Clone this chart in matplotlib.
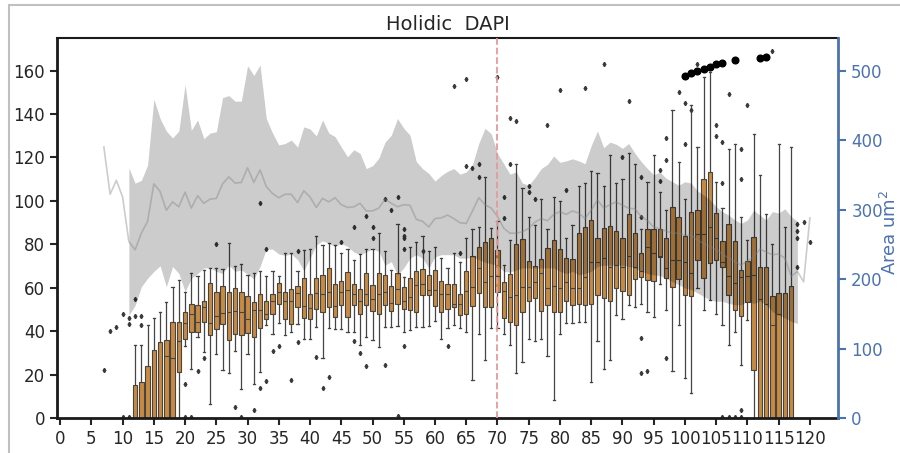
import numpy as np
import matplotlib.pyplot as plt
from matplotlib.patches import Rectangle

plt.rcParams['font.family'] = 'DejaVu Sans'

# ============================
# DATA
# ============================
# box statistics per age (left axis, DAPI)
box_pos = list(range(12, 118))
q1 = [0, 0, 0, 0, 0, 0, 0, 21, 36.5, 39.8,
      39.8, 44.4, 38, 41, 43.3, 36, 38.6, 38, 39.3, 37.1,
      41.5, 45.5, 47.7, 52.7, 45.8, 43.5, 51.2, 46.1, 45.8, 50.4,
      48.9, 50.9, 46.6, 52, 46.3, 52, 47.7, 52, 49.2, 47.7,
      52, 49.2, 52.3, 50.1, 49.7, 48.6, 56.6, 56.6, 51.5, 48.9,
      50.1, 50.9, 47.5, 47.8, 51.6, 57.5, 51, 51, 58.2, 46,
      44.4, 42.6, 49, 54, 55.2, 49.5, 52, 49, 48.6, 54,
      52, 52.6, 52, 52.6, 56.7, 55.2, 54, 59.8, 58.7, 56.7,
      63.9, 65.1, 63.6, 63.3, 74, 64.7, 60.5, 63.9, 56.7, 56,
      72.8, 64.4, 71.6, 72.8, 69.4, 56.7, 49.8, 47.2, 53.6, 21.9,
      0, 0, 0, 0, 0, 0]
med = [0, 0, 0, 0, 0, 28.7, 27.6, 35.6, 43.7, 47.8,
       44.4, 50.9, 43.7, 47, 48.5, 48.6, 49.5, 48.7, 45.7, 49.7,
       49.7, 47.7, 54, 57.8, 54, 54, 57.6, 51.6, 50.7, 57.6,
       56.9, 57.8, 51.5, 57.8, 58.9, 56.9, 53.8, 56.9, 55, 56.9,
       57.8, 53, 59.6, 53.8, 55.8, 61.1, 61.6, 58.9, 58.9, 56.9,
       57.3, 52.6, 52.6, 58.7, 60.5, 69, 62.5, 65.6, 65.6, 58.7,
       55.6, 56.7, 60.5, 60.5, 62.8, 66.7, 59.8, 61, 59.8, 62.8,
       59.8, 59.8, 64.8, 71.7, 71.7, 73.9, 69.7, 70.5, 69.7, 74.8,
       69.7, 67.9, 78.9, 75.9, 74.8, 69, 72.8, 72.8, 71.7, 66.7,
       84.7, 84.7, 87.8, 82.8, 71.7, 65.6, 62, 65, 65.6, 65.9,
       54.7, 52.6, 42.9, 47.8, 0, 0]
q3 = [15, 16.6, 24.1, 31.4, 34.8, 36, 44.4, 44.4, 48.6, 52.6,
      52, 54, 62, 58, 61, 58, 59.7, 58, 56, 53.5,
      57, 53.8, 56.9, 62.2, 58, 59.6, 60.8, 64.7, 57, 64.5,
      65.7, 69.3, 61.9, 63.1, 67.3, 61.5, 59.2, 66.8, 61.1, 66.8,
      65.7, 60.7, 66.8, 60.4, 64.7, 67.6, 68.8, 65.7, 68.3, 63,
      61.5, 61.8, 57.2, 67.9, 74.8, 78.9, 81.2, 82.8, 77.2, 62.8,
      66.2, 80, 82.3, 72.3, 70.2, 73.3, 78.5, 82, 77.9, 73.6,
      73.3, 85.4, 88, 91, 82.8, 87.7, 88.6, 86.3, 82.8, 93.8,
      85.4, 75.9, 86.9, 86.9, 86.9, 82.8, 97.3, 92.7, 83.8, 95,
      95.8, 110, 113.4, 94.3, 81.7, 89.3, 81.7, 68.2, 72.3, 83.2,
      69.4, 69.7, 56.2, 57.5, 57.5, 61]
whislo = [0, 0, 0, 0, 0, 0, 0, 0, 33, 22.5,
          37.5, 30.6, 6.4, 29.7, 22, 20.6, 31, 13.4, 29.4, 15.5,
          21.3, 42.8, 38.5, 43.8, 38.2, 39.4, 43.5, 36.6, 36.6, 42,
          27.7, 41.5, 40.8, 40.8, 39.7, 39.7, 33.6, 37.4, 35.9, 32.8,
          42, 42, 42.5, 39.7, 40.5, 42, 41.7, 42.5, 44.6, 36.6,
          41.5, 42.6, 41.4, 39.5, 17.6, 38.8, 26.5, 41.4, 41.5, 38.6,
          33.7, 20.7, 25.6, 36.5, 35.6, 36.5, 28.7, 8.4, 38.8, 43.7,
          43.7, 44.4, 44, 16.6, 35.6, 22.5, 26.5, 47.5, 45.7, 52,
          50.9, 52.6, 48.7, 46.7, 61.8, 49.8, 21.8, 42.9, 18.4, 11.5,
          59.8, 49.8, 54.4, 47.8, 42.6, 33.7, 39.8, 24.5, 45.2, 0,
          0, 0, 0, 0, 0, 0]
whishi = [33.7, 33.7, 42.6, 46, 48.7, 53.6, 60.5, 63.6, 58, 66.7,
          65.5, 68, 69, 69, 68.5, 80.8, 70, 70.8, 66, 66.8,
          67.7, 65.3, 67.7, 65.3, 76, 76, 67.7, 77.5, 78, 84,
          79.8, 80.6, 79.8, 76, 77.7, 72.6, 75.7, 77.7, 77.7, 85,
          76.8, 68, 89.2, 65, 78.8, 81, 83.7, 77, 78.8, 73.9,
          69.1, 75.9, 72, 82.8, 86.9, 87.8, 111, 87.4, 90.8, 70.5,
          82, 117, 105.7, 92.7, 88.9, 100.8, 86.9, 102, 100, 82.8,
          88.9, 107, 108, 113.7, 113, 107, 121, 108, 110, 122,
          117, 86.9, 108.8, 121, 104, 95.8, 142, 118, 100.8, 144,
          125, 157, 159.4, 108.8, 96.9, 124, 126, 92.7, 82, 131,
          112, 94, 80, 126, 87.8, 125]

# outliers (left axis)
flier_x = [7, 8, 9, 10, 10, 11, 11, 11, 12, 12, 13, 13,
           20, 20, 21, 22, 23, 25, 28, 29,
           31, 32, 32, 33, 33, 34, 35, 37, 38, 38,
           41, 42, 43, 45, 47, 47, 48, 49, 49,
           50, 50, 52, 52, 53, 54, 54,
           55, 55, 55, 55, 55, 58, 62, 63, 64, 65, 65, 66, 67, 67, 70,
           71, 71, 72, 72, 73, 75, 75, 76, 78, 80, 81, 84, 87, 90,
           91, 93, 93, 93, 93, 94, 96, 96, 97, 97, 97, 99, 100, 100, 101, 102,
           105, 105, 106, 106, 107, 109, 109, 109, 110, 114,
           106, 107, 108, 109,
           118, 118, 118, 118, 119, 120]
flier_y = [22, 40, 42, 47.8, 0.4, 46, 43.2, 0.4, 54.9, 47.2, 47.2, 42.6,
           15.6, 0.3, 0.5, 21.8, 27.6, 80, 4.9, 0.4,
           3.8, 99, 13.8, 78, 16.9, 30.7, 33, 17.6, 77, 35,
           28, 13.8, 18.7, 81, 87.8, 35.6, 30, 93, 23.8,
           87.8, 82.8, 100.8, 24.5, 95.8, 102, 0.8,
           87, 84, 82.8, 77.9, 33, 77, 33, 153, 76, 156, 116, 115, 117, 111, 157,
           102, 92, 138, 117, 137, 107, 104, 101, 135, 151, 105, 152, 163, 120,
           146, 111, 92.7, 36.8, 20.7, 21.8, 114, 109, 129, 119, 27.6, 150, 145, 126, 142, 163,
           135, 130, 127, 108, 149, 124, 110, 3.8, 144, 169,
           0.3, 0.3, 0.3, 0.3,
           89.3, 86.1, 82.8, 69.7, 90.4, 80.9]

# large black points (left axis)
big_x = [100, 101, 102, 103, 104, 105, 106, 108, 112, 113]
big_y = [157.4, 158.8, 160, 160.6, 161.8, 163, 163.7, 165, 165.6, 166.4]

# area mean line and band (right axis)
area_x = list(range(7, 121))
area_mean = [390, 322, 342, 318, 254, 242, 266, 283, 337, 326,
             299, 311, 304, 325, 302, 320, 309, 315, 316, 337,
             347, 338, 339, 360, 339, 357, 333, 323, 317, 322,
             322, 310, 327, 318, 303, 316, 311, 317, 307, 303,
             304, 309, 298, 298, 302, 315, 309, 304, 307, 306,
             286, 283, 275, 287, 288, 292, 287, 281, 280, 298,
             317, 307, 302, 290, 273, 266, 266, 268, 273, 282,
             287, 284, 293, 297, 293, 298, 295, 287, 299, 314,
             302, 307, 311, 306, 302, 301, 290, 284, 275, 272,
             269, 266, 266, 263, 263, 256, 251, 247, 242, 236,
             230, 225, 220, 226, 232, 243, 239, 235, 236, 230,
             204, 211, 196, 288]
band_x = list(range(11, 119))
band_hi = [360, 338, 342, 364, 459, 431, 413, 403, 413, 480,
           414, 429, 402, 410, 412, 461, 464, 456, 456, 507,
           493, 508, 431, 410, 393, 395, 400, 390, 419, 416,
           406, 429, 410, 405, 390, 376, 386, 381, 359, 363,
           374, 397, 407, 431, 417, 407, 369, 359, 352, 341,
           349, 355, 359, 351, 354, 365, 395, 417, 409, 381,
           366, 351, 354, 338, 335, 346, 359, 365, 377, 368,
           370, 373, 370, 366, 392, 413, 389, 397, 394, 388,
           395, 381, 369, 359, 350, 354, 345, 340, 335, 340,
           338, 327, 321, 314, 304, 297, 292, 285, 280, 285,
           299, 292, 285, 297, 295, 301, 290, 283]
band_lo = [148, 162, 189, 201, 211, 219, 189, 218, 208, 182,
           201, 208, 216, 216, 211, 208, 220, 211, 213, 207,
           200, 218, 243, 243, 236, 234, 236, 228, 212, 230,
           249, 255, 251, 247, 251, 247, 239, 235, 239, 243,
           240, 220, 225, 206, 216, 230, 235, 230, 216, 232,
           235, 235, 235, 230, 230, 232, 228, 224, 222, 220,
           211, 210, 213, 216, 216, 216, 216, 216, 216, 211,
           208, 211, 206, 208, 211, 218, 220, 220, 220, 220,
           218, 216, 211, 208, 206, 205, 201, 196, 192, 187,
           185, 180, 175, 170, 168, 168, 165, 163, 163, 168,
           165, 168, 163, 153, 148, 144, 139, 136]

BLUE = '#4c72b0'
ORANGE = '#c98a40'
EDGE = '#454545'

# ============================
# FIGURE
# ============================
fig = plt.figure(figsize=(9, 4.53), dpi=100)
ax = fig.add_axes([57 / 900, 1 - 418 / 453, (838 - 57) / 900, (418 - 38) / 453])

stats = [dict(med=m, q1=a, q3=b, whislo=lo, whishi=hi, fliers=[])
         for a, m, b, lo, hi in zip(q1, med, q3, whislo, whishi)]
ax.bxp(stats, positions=box_pos, widths=0.7, patch_artist=True,
       showfliers=False, manage_ticks=False,
       boxprops=dict(facecolor=ORANGE, edgecolor=EDGE, linewidth=0.8),
       medianprops=dict(color=EDGE, linewidth=0.8),
       whiskerprops=dict(color=EDGE, linewidth=0.9),
       capprops=dict(color=EDGE, linewidth=0.9))

ax.plot(flier_x, flier_y, ls='none', marker='d', ms=2.2, color='#3a3a3a')
ax.plot(big_x, big_y, ls='none', marker='o', ms=4.8, color='black')

ax.set_xlim(-0.5, 124.5)
ax.set_ylim(0, 175)
ax.set_xticks(range(0, 121, 5))
ax.set_yticks(range(0, 161, 20))
ax.tick_params(direction='out', length=5, width=1.5, labelsize=12,
               labelcolor='#262626', color='#262626')
ax.set_title('Holidic  DAPI', fontsize=14, color='#262626', pad=6)
for s in ['left', 'bottom']:
    ax.spines[s].set_linewidth(2)
    ax.spines[s].set_color('#1a1a1a')
ax.spines['top'].set_linewidth(1.5)
ax.spines['top'].set_color('#1a1a1a')
ax.spines['right'].set_visible(False)

# area on twin axis
ax2 = ax.twinx()
ax2.plot(area_x, area_mean, color='gray', alpha=0.4, lw=1.2)
ax2.fill_between(band_x, band_lo, band_hi, color='black', alpha=0.2, lw=0)
ax2.axvline(70, color='#e89a9a', ls='--', lw=1.3)
ax2.set_ylim(0, 175 * 500 / 160)
ax2.set_yticks(range(0, 501, 100))
ax2.tick_params(direction='out', length=6, width=1.5, labelsize=12,
                colors=BLUE)
for s in ['left', 'bottom', 'top']:
    ax2.spines[s].set_visible(False)
ax2.spines['right'].set_color(BLUE)
ax2.spines['right'].set_linewidth(2)

fig.text(880 / 900, 1 - 232 / 453, 'Area um$^2$', rotation=90, ha='left',
         va='center', color=BLUE, fontsize=13)

# light frame around the figure
fig.add_artist(Rectangle((9 / 900, -0.1), 1.2, 1.1 - 5 / 453, transform=fig.transFigure,
                         fill=False, edgecolor='#c0c0c0', lw=1.5))

fig.savefig('out.png', dpi=100)
